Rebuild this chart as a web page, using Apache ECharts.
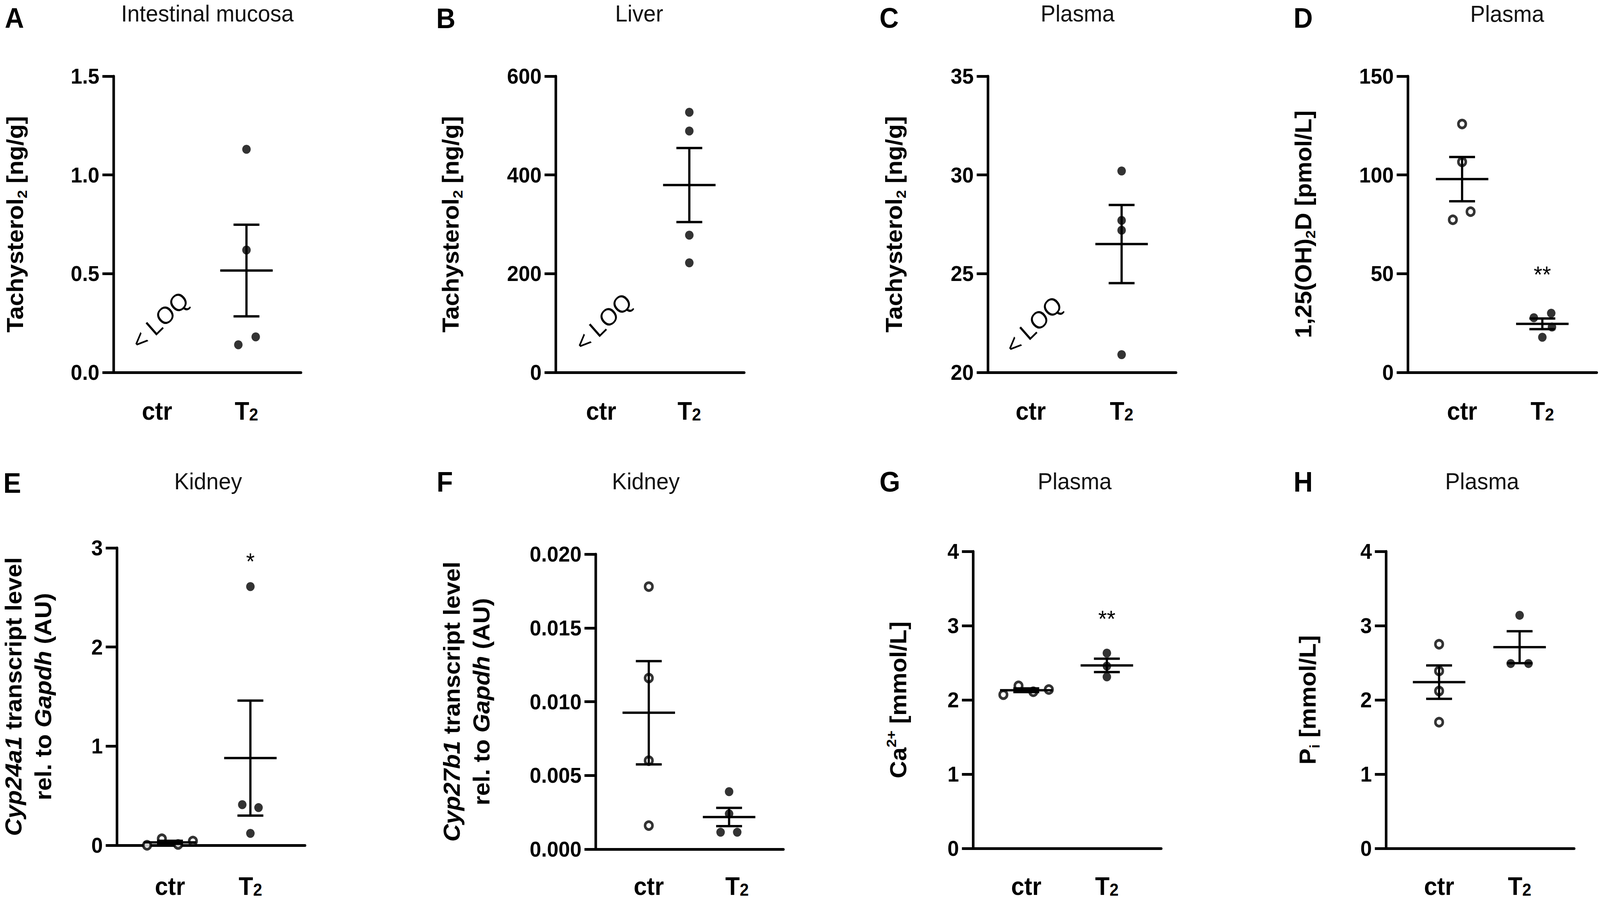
<!DOCTYPE html>
<html>
<head>
<meta charset="utf-8">
<script src="https://cdn.jsdelivr.net/npm/echarts@6/dist/echarts.min.js"></script>
<style>
html,body{margin:0;padding:0;background:#fff;overflow:hidden;}
#wrap{width:4328px;height:2303px;transform-origin:0 0;}
#chart{width:4328px;height:2303px;}
</style>
</head>
<body>
<div id="wrap"><div id="chart"></div></div>
<script>
// ---------------- DATA ----------------
const groups = ['ctr', 'T2'];

// A  Intestinal mucosa – Tachysterol2 [ng/g]
const A_ticks = [0, 0.5, 1.0, 1.5];
const A_ctr = [];
const A_t2 = [1.13, 0.62, 0.14, 0.18];
const A_mean = [null, 0.516];
const A_sem = [null, 0.232];

// B  Liver – Tachysterol2 [ng/g]
const B_ticks = [0, 200, 400, 600];
const B_ctr = [];
const B_t2 = [527, 489, 278, 222];
const B_mean = [null, 379.5];
const B_sem = [null, 75];

// C  Plasma – Tachysterol2 [ng/g]
const C_ticks = [20, 25, 30, 35];
const C_ctr = [];
const C_t2 = [30.2, 27.7, 27.2, 20.9];
const C_mean = [null, 26.5];
const C_sem = [null, 1.98];

// D  Plasma – 1,25(OH)2D [pmol/L]
const D_ticks = [0, 50, 100, 150];
const D_ctr = [125.8, 106.6, 81.4, 77.3];
const D_t2 = [27.7, 30.0, 23.0, 17.8];
const D_mean = [97.9, 24.6];
const D_sem = [11.2, 2.7];

// E  Kidney – Cyp24a1 transcript level rel. to Gapdh (AU)
const E_ticks = [0, 1, 2, 3];
const E_ctr = [0.0, 0.066, 0.008, 0.043];
const E_t2 = [2.61, 0.41, 0.38, 0.12];
const E_mean = [0.03, 0.88];
const E_sem = [0.015, 0.58];

// F  Kidney – Cyp27b1 transcript level rel. to Gapdh (AU)
const F_ticks = [0, 0.005, 0.010, 0.015, 0.020];
const F_ctr = [0.0178, 0.0116, 0.0060, 0.0016];
const F_t2 = [0.0039, 0.0024, 0.00115, 0.00115];
const F_mean = [0.00925, 0.00218];
const F_sem = [0.0035, 0.00062];

// G  Plasma – Ca2+ [mmol/L]
const G_ticks = [0, 1, 2, 3, 4];
const G_ctr = [2.07, 2.19, 2.11, 2.14];
const G_t2 = [2.63, 2.455, 2.31];
const G_mean = [2.13, 2.465];
const G_sem = [0.025, 0.09];

// H  Plasma – Pi [mmol/L]
const H_ticks = [0, 1, 2, 3, 4];
const H_ctr = [2.75, 2.39, 2.12, 1.70];
const H_t2 = [3.14, 2.49, 2.49];
const H_mean = [2.24, 2.71];
const H_sem = [0.225, 0.215];

const letters = ['A', 'B', 'C', 'D', 'E', 'F', 'G', 'H'];
const titles = ['Intestinal mucosa', 'Liver', 'Plasma', 'Plasma', 'Kidney', 'Kidney', 'Plasma', 'Plasma'];
const yNames = [
  '{b|Tachysterol}{sub|2}{b| [ng/g]}',
  '{b|Tachysterol}{sub|2}{b| [ng/g]}',
  '{b|Tachysterol}{sub|2}{b| [ng/g]}',
  '{b|1,25(OH)}{sub|2}{b|D [pmol/L]}',
  '{i1|Cyp24a1}{b1| transcript level}\n{b2|rel. to }{i2|Gapdh}{b2| (AU)}',
  '{i1|Cyp27b1}{b1| transcript level}\n{b2|rel. to }{i2|Gapdh}{b2| (AU)}',
  '{b|Ca}{sup|2+}{b| [mmol/L]}',
  '{b|P}{sub|i}{b| [mmol/L]}'
];
const notes = ['< LOQ', '< LOQ', '< LOQ', null, null, null, null, null];
const signif = [null, null, null, '**', '*', null, '**', null];

const panelData = [
  {ticks: A_ticks, ctr: A_ctr, t2: A_t2, mean: A_mean, sem: A_sem},
  {ticks: B_ticks, ctr: B_ctr, t2: B_t2, mean: B_mean, sem: B_sem},
  {ticks: C_ticks, ctr: C_ctr, t2: C_t2, mean: C_mean, sem: C_sem},
  {ticks: D_ticks, ctr: D_ctr, t2: D_t2, mean: D_mean, sem: D_sem},
  {ticks: E_ticks, ctr: E_ctr, t2: E_t2, mean: E_mean, sem: E_sem},
  {ticks: F_ticks, ctr: F_ctr, t2: F_t2, mean: F_mean, sem: F_sem},
  {ticks: G_ticks, ctr: G_ctr, t2: G_t2, mean: G_mean, sem: G_sem},
  {ticks: H_ticks, ctr: H_ctr, t2: H_t2, mean: H_mean, sem: H_sem}
];

// ---------------- LAYOUT / STYLE ----------------
const DESIGN_W = 4328, DESIGN_H = 2303;
const FONT = '"Liberation Sans", Arial, Helvetica, sans-serif';
const layout = [
  {left: 307, top: 195, width: 507, height: 758, xMin: 0.513, xMax: 2.609, dec: 1, nameGap: 228, lblMargin: 68,
   dataX: [1, 2], jitCtr: [], jitT2: [0, 0, -22, 25], note: [1.033, 0.263], sigY: null,
   title: [561, 34], letter: [39, 46]},
  {left: 1503, top: 195, width: 510, height: 758, xMin: 0.4845, xMax: 2.622, dec: 0, nameGap: 246, lblMargin: 68,
   dataX: [1, 2], jitCtr: [], jitT2: [0, 0, 0, 0], note: [1.025, 102], sigY: null,
   title: [1729, 34], letter: [1206, 47]},
  {left: 2672, top: 195, width: 509, height: 758, xMin: 0.528, xMax: 2.598, dec: 0, nameGap: 216, lblMargin: 68,
   dataX: [1, 2], jitCtr: [], jitT2: [0, 0, 0, 0], note: [1.033, 22.4], sigY: null,
   title: [2915, 34], letter: [2405, 46]},
  {left: 3808, top: 195, width: 511, height: 758, xMin: 0.323, xMax: 2.677, dec: 0, nameGap: 244, lblMargin: 68,
   dataX: [1, 2], jitCtr: [0, 0, 23, -25], jitT2: [-23, 24, 26, 0], note: null, sigY: 49.6,
   title: [4077, 35], letter: [3525, 46]},
  {left: 316, top: 1402, width: 509, height: 761, xMin: 0.339, xMax: 2.679, dec: 0, nameGap: 141, lblMargin: 74,
   dataX: [1, 2], jitCtr: [-62, -22, 22, 62], jitT2: [0, -22, 22, 0], note: null, sigY: 2.868,
   title: [563, 1231], letter: [33, 1236]},
  {left: 1611, top: 1418, width: 508, height: 755, xMin: 0.397, xMax: 2.525, dec: 3, nameGap: 251, lblMargin: 64,
   dataX: [1, 1.91], jitCtr: [0, 0, 0, 0], jitT2: [0, 0, -23, 22], note: null, sigY: null,
   title: [1747, 1231], letter: [1203, 1233]},
  {left: 2632, top: 1411, width: 509, height: 760, xMin: 0.339, xMax: 2.674, dec: 0, nameGap: 164, lblMargin: 66,
   dataX: [1, 2], jitCtr: [-62, -21, 19, 61], jitT2: [0, 0, 0], note: null, sigY: 3.097,
   title: [2907, 1231], letter: [2407, 1233]},
  {left: 3749, top: 1411, width: 509, height: 760, xMin: 0.34, xMax: 2.677, dec: 0, nameGap: 174, lblMargin: 66,
   dataX: [1, 2], jitCtr: [0, 0, 0, 0], jitT2: [0, -24, 24], note: null, sigY: null,
   title: [4009, 1231], letter: [3525, 1233]}
];

const MEAN_HW = 71, CAP_HW = 35, EB_W = 6, AXIS_W = 7;

// fit the whole figure into the actual window (vector scaling, SVG renderer)
(function fit() {
  const sx = window.innerWidth / DESIGN_W, sy = window.innerHeight / DESIGN_H;
  document.getElementById('wrap').style.transform = 'scale(' + sx + ',' + sy + ')';
})();

function catRich(s) {
  const m = s.match(/^(\D+)(\d+)$/);
  return m ? '{b|' + m[1] + '}{sub|' + m[2] + '}' : '{b|' + s + '}';
}
const catRichStyles = {
  b: {fontFamily: FONT, fontWeight: 'bold', fontSize: 64, lineHeight: 62, color: '#000'},
  sub: {fontFamily: FONT, fontWeight: 'bold', fontSize: 44, lineHeight: 28, verticalAlign: 'bottom', color: '#000'}
};
const nameRichStyles = {
  b: {fontFamily: FONT, fontWeight: 'bold', fontSize: 62, lineHeight: 76, color: '#000'},
  sub: {fontFamily: FONT, fontWeight: 'bold', fontSize: 38, lineHeight: 28, verticalAlign: 'bottom', color: '#000'},
  sup: {fontFamily: FONT, fontWeight: 'bold', fontSize: 38, lineHeight: 28, verticalAlign: 'top', color: '#000'},
  b1: {fontFamily: FONT, fontWeight: 'bold', fontSize: 62, lineHeight: 44, color: '#000'},
  i1: {fontFamily: FONT, fontWeight: 'bold', fontStyle: 'italic', fontSize: 62, lineHeight: 44, color: '#000'},
  b2: {fontFamily: FONT, fontWeight: 'bold', fontSize: 62, lineHeight: 116, color: '#000'},
  i2: {fontFamily: FONT, fontWeight: 'bold', fontStyle: 'italic', fontSize: 62, lineHeight: 116, color: '#000'}
};

function errRender(params, api) {
  const x = api.value(0), m = api.value(1), s = api.value(2);
  const c = api.coord([x, m]);
  const t = api.coord([x, m + s]);
  const b = api.coord([x, m - s]);
  const st = {stroke: '#000', lineWidth: EB_W, fill: null};
  return {
    type: 'group',
    children: [
      {type: 'line', shape: {x1: c[0] - MEAN_HW, y1: c[1], x2: c[0] + MEAN_HW, y2: c[1]}, style: st},
      {type: 'line', shape: {x1: t[0], y1: t[1], x2: b[0], y2: b[1]}, style: st},
      {type: 'line', shape: {x1: t[0] - CAP_HW, y1: t[1], x2: t[0] + CAP_HW, y2: t[1]}, style: st},
      {type: 'line', shape: {x1: b[0] - CAP_HW, y1: b[1], x2: b[0] + CAP_HW, y2: b[1]}, style: st}
    ]
  };
}

const option = {
  animation: false,
  backgroundColor: '#fff',
  grid: [], xAxis: [], yAxis: [], series: [], graphic: []
};

panelData.forEach((d, i) => {
  const L = layout[i];
  const ticks = d.ticks;
  option.grid.push({left: L.left, top: L.top, width: L.width, height: L.height,
    containLabel: false, outerBoundsMode: 'none'});
  option.xAxis.push({
    type: 'value', gridIndex: i, min: L.xMin, max: L.xMax,
    axisLine: {show: true, onZero: false, lineStyle: {color: '#000', width: AXIS_W}},
    axisTick: {show: false},
    splitLine: {show: false},
    axisLabel: {
      show: true, customValues: [1, 2], margin: L.lblMargin,
      formatter: (v) => catRich(groups[Math.round(v) - 1] || ''),
      rich: catRichStyles
    }
  });
  option.yAxis.push({
    type: 'value', gridIndex: i,
    min: ticks[0], max: ticks[ticks.length - 1], interval: ticks[1] - ticks[0],
    axisLine: {show: true, lineStyle: {color: '#000', width: AXIS_W}},
    axisTick: {show: true, length: 30, lineStyle: {color: '#000', width: AXIS_W}},
    splitLine: {show: false},
    axisLabel: {
      show: true, margin: 38, color: '#000', fontFamily: FONT, fontWeight: 'bold', fontSize: 56,
      formatter: (v) => Number(v).toFixed(L.dec)
    },
    name: yNames[i], nameLocation: 'middle', nameGap: L.nameGap,
    nameTextStyle: {rich: nameRichStyles}
  });

  if (d.ctr.length) {
    option.series.push({
      type: 'scatter', xAxisIndex: i, yAxisIndex: i, z: 2, silent: true,
      symbol: 'circle', symbolSize: 20,
      itemStyle: {color: '#fff', borderColor: '#000', borderWidth: 7},
      data: d.ctr.map((v, k) => ({value: [L.dataX[0], v], symbolOffset: [L.jitCtr[k] || 0, 0]}))
    });
  }
  option.series.push({
    type: 'scatter', xAxisIndex: i, yAxisIndex: i, z: 2, silent: true,
    symbol: 'circle', symbolSize: 23,
    itemStyle: {color: '#000'},
    data: d.t2.map((v, k) => ({value: [L.dataX[1], v], symbolOffset: [L.jitT2[k] || 0, 0]}))
  });
  const eb = [];
  d.mean.forEach((m, k) => { if (m != null) eb.push([L.dataX[k], m, d.sem[k]]); });
  option.series.push({
    type: 'custom', xAxisIndex: i, yAxisIndex: i, z: 3, silent: true, clip: false,
    renderItem: errRender, data: eb
  });

  option.graphic.push({
    type: 'text', x: L.title[0], y: L.title[1], silent: true,
    style: {text: titles[i], fill: '#111', fontFamily: FONT, fontSize: 60, fontWeight: 'normal', lineHeight: 56,
      align: 'center', verticalAlign: 'middle', textAlign: 'center', textVerticalAlign: 'middle'}
  });
  option.graphic.push({
    type: 'text', x: L.letter[0], y: L.letter[1], silent: true,
    style: {text: letters[i], fill: '#000', fontFamily: FONT, fontSize: 72, fontWeight: 'bold', lineHeight: 70,
      align: 'center', verticalAlign: 'middle', textAlign: 'center', textVerticalAlign: 'middle'}
  });
});

const chart = echarts.init(document.getElementById('chart'), null, {renderer: 'svg', width: DESIGN_W, height: DESIGN_H});
chart.setOption(option);

// annotations placed through each panel's own scales
const extra = [];
panelData.forEach((d, i) => {
  const L = layout[i];
  if (notes[i] && L.note) {
    const p = chart.convertToPixel({gridIndex: i}, L.note);
    extra.push({type: 'text', x: p[0], y: p[1], rotation: 43 * Math.PI / 180, silent: true,
      style: {text: notes[i], fill: '#000', fontFamily: FONT, fontSize: 62, fontWeight: 'normal',
        align: 'center', verticalAlign: 'middle', textAlign: 'center', textVerticalAlign: 'middle'}});
  }
  if (signif[i] && L.sigY != null) {
    const p = chart.convertToPixel({gridIndex: i}, [L.dataX[1], L.sigY]);
    extra.push({type: 'text', x: p[0], y: p[1], silent: true,
      style: {text: signif[i], fill: '#000', fontFamily: FONT, fontSize: 60, fontWeight: 'normal',
        align: 'center', verticalAlign: 'middle', textAlign: 'center', textVerticalAlign: 'middle'}});
  }
});
chart.setOption({graphic: option.graphic.concat(extra)});
</script>
</body>
</html>
